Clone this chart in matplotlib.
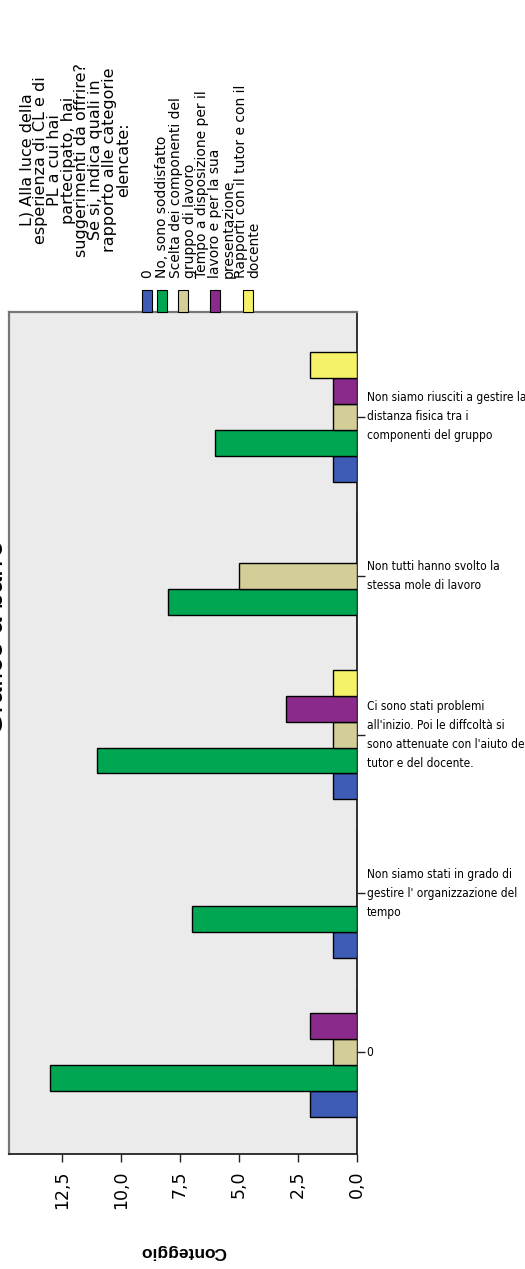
import matplotlib
matplotlib.use("Agg")
from matplotlib import pyplot as plt
from matplotlib import font_manager as fm
from matplotlib.patches import Rectangle
import numpy as np

# categories from bottom to top of the picture
categories = [
    "0",
    "Non siamo stati in grado di\ngestire l' organizzazione del\ntempo",
    "Ci sono stati problemi\nall'inizio. Poi le diffcoltà si\nsono attenuate con l'aiuto del\ntutor e del docente.",
    "Non tutti hanno svolto la\nstessa mole di lavoro",
    "Non siamo riusciti a gestire la\ndistanza fisica tra i\ncomponenti del gruppo",
]

series_names = [
    "0",
    "No, sono soddisfatto",
    "Scelta dei componenti del\ngruppo di lavoro",
    "Tempo a disposizione per il\nlavoro e per la sua\npresentazione",
    "Rapporti con il tutor e con il\ndocente",
]
series_colors = ["#3E5BB5", "#00A651", "#D3CE97", "#8A2A8A", "#F5F26A"]

val_0 = [2, 1, 1, 0, 1]
val_soddisfatto = [13, 7, 11, 8, 6]
val_scelta = [1, 0, 1, 5, 1]
val_tempo = [2, 0, 3, 0, 1]
val_rapporti = [0, 0, 1, 0, 2]
series_values = [val_0, val_soddisfatto, val_scelta, val_tempo, val_rapporti]

value_ticks = [0, 2.5, 5.0, 7.5, 10.0, 12.5]

legend_title = ("L) Alla luce della\nesperienza di CL e di\nPL a cui hai\npartecipato, hai\n"
                "suggerimenti da offrire?\nSe si, indica quali in\nrapporto alle categorie\nelencate:")

# narrow sans font for the category labels, if installed
cat_font = fm.FontProperties(family="Liberation Sans")
for f in fm.fontManager.ttflist:
    if f.name in ("Liberation Sans Narrow", "Arial Narrow"):
        cat_font = fm.FontProperties(fname=f.fname)
        break
    if f.name == "DejaVu Sans" and "condensed" in str(f.stretch) \
            and f.weight in (400, "normal", "regular", "book") and f.style == "normal":
        cat_font = fm.FontProperties(fname=f.fname)

W, H = 525, 1269
fig = plt.figure(figsize=(W / 100, H / 100), dpi=100)
fig.patch.set_facecolor("white")

# plot area in pixels
left, right, top, bottom = 9, 357, 312, 1154
ax = fig.add_axes([left / W, 1 - bottom / H, (right - left) / W, (bottom - top) / H])
ax.set_facecolor("#EBEBEB")

y = np.arange(len(categories))
bh = 0.163
for i, (vals, col) in enumerate(zip(series_values, series_colors)):
    offs = (i - 2) * bh
    ax.barh(y + offs, vals, height=bh, color=col, edgecolor="black", linewidth=1.0, zorder=3)

ax.set_xlim(14.75, 0)
ax.set_ylim(-0.64, 4.66)

ax.yaxis.tick_right()
ax.set_yticks(y)
labels = ax.set_yticklabels(categories, fontproperties=cat_font, fontsize=13,
                            ha="left", va="center")
ax.tick_params(axis="y", length=6, width=1, pad=1, color="#222222")

# shrink the labels so the widest line fits in the space right of the plot
renderer = fig.canvas.get_renderer()
widest = 0
for lab in labels:
    for line in lab.get_text().split("\n"):
        t = fig.text(0, 0, line, fontproperties=cat_font, fontsize=13)
        widest = max(widest, t.get_window_extent(renderer).width)
        t.remove()
size = min(13, 13 * 160 / widest)
for lab in labels:
    lab.set_fontsize(size)
    lab.set_linespacing(min(1.6, 20 / (size * 100 / 72 * 0.985)))

ax.set_xticks(value_ticks)
ax.set_xticklabels([f"{v:.1f}".replace(".", ",") for v in value_ticks],
                   rotation=90, fontsize=12.5, family="DejaVu Sans", va="top")
ax.tick_params(axis="x", length=6, width=1, pad=6, color="#222222")

for side in ["right", "bottom"]:
    ax.spines[side].set_color("#222222")
    ax.spines[side].set_linewidth(1.3)
for side in ["top", "left"]:
    ax.spines[side].set_color("#777777")
    ax.spines[side].set_linewidth(1.6)

# axis label, upside down
fig.text(183 / W, 1 - 1252 / H, "Conteggio", rotation=180, fontsize=12.5, fontweight="bold",
         ha="center", va="center", family="Liberation Sans")

# title, mostly clipped at the left edge like in the source image
fig.text(9 / W, 1 - 638 / H, "Grafico a barre", rotation=90, fontsize=21,
         ha="right", va="center", family="Liberation Sans")

# legend title
fig.text(75 / W, 1 - 160 / H, legend_title, rotation=90, fontsize=11.5, linespacing=0.9,
         ha="center", va="center", multialignment="center", family="DejaVu Sans")

# legend entries
sw_x = [147, 162, 183, 215, 248]
for name, col, cx in zip(series_names, series_colors, sw_x):
    fig.add_artist(Rectangle(((cx - 5) / W, 1 - 312 / H), 10 / W, 22 / H,
                             transform=fig.transFigure, facecolor=col,
                             edgecolor="black", linewidth=0.8))
    fig.text(cx / W, 1 - 278 / H, name, rotation=90, fontsize=10, linespacing=0.95,
             ha="center", va="bottom", multialignment="left", family="DejaVu Sans")

fig.savefig("out.png", dpi=100)
